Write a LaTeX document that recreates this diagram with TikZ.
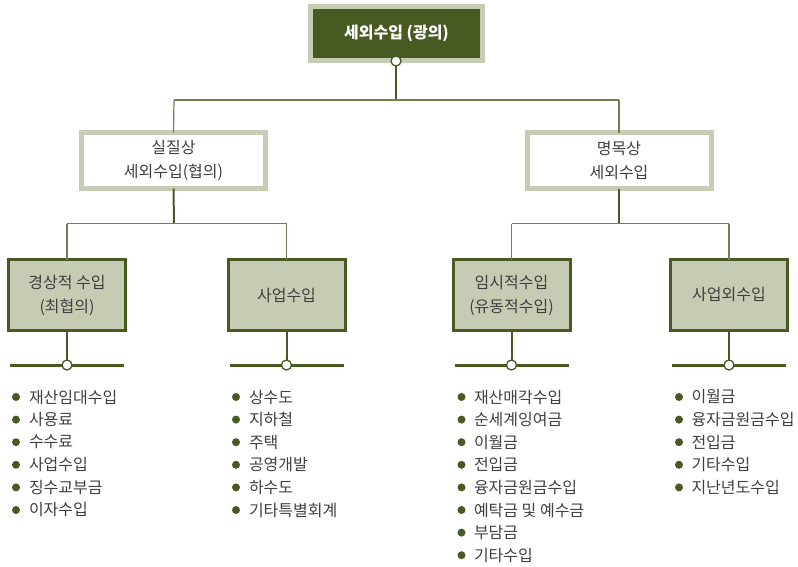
\documentclass[tikz,border=0pt]{standalone}
\usepackage{fontspec}
\setmainfont{Noto Sans CJK KR}
\begin{document}
\begin{tikzpicture}[x=1pt,y=-1pt,
  every node/.style={inner sep=0pt, outer sep=0pt},
  topbox/.style={draw=lightbd, line width=5pt, fill=dkgreen, minimum width=172pt, minimum height=54pt, text=white, font=\fontsize{16}{19}\selectfont\bfseries},
  midbox/.style={draw=lightbd, line width=5pt, fill=white, minimum width=184pt, minimum height=56pt, text=txtgray, align=center, font=\fontsize{16}{24}\selectfont},
  lowbox/.style={draw=dkgreen, line width=3pt, fill=boxfill, minimum width=117pt, minimum height=71pt, text=txtgray, align=center, font=\fontsize{16}{24}\selectfont},
  knob/.style={circle, draw=dkgreen, line width=1.3pt, fill=white, minimum size=10pt},
  thick line/.style={draw=dkgreen, line width=2pt},
  thin line/.style={draw=thingreen, line width=1.2pt},
  bar/.style={draw=dkgreen, line width=3pt},
  item/.style={anchor=west, text=txtgray, font=\fontsize{16}{19}\selectfont},
  dot/.style={circle, fill=dkgreen, minimum size=8pt}
]
\definecolor{dkgreen}{HTML}{465A22}
\definecolor{lightbd}{HTML}{C6CDB5}
\definecolor{boxfill}{HTML}{C5CCB3}
\definecolor{thingreen}{HTML}{6F8150}
\definecolor{txtgray}{HTML}{404040}
\useasboundingbox (0,0) rectangle (798,566);

% top
\node[topbox] (top) at (396.5,33.5) {세외수입 (광의)};
\node[knob] (topk) at (396,61) {};
\coordinate (tj) at (396,100);
\coordinate (tl) at (174,100);
\coordinate (tr) at (619,100);

% middle
\node[midbox] (m1) at (173.5,160.5) {실질상\\세외수입(협의)};
\node[midbox] (m2) at (619,160.5) {명목상\\세외수입};

\draw[thick line] (topk) -- (tj);
\draw[thin line] (tl) -- (tr);
\draw[thin line] (tl) -- (m1.north);
\draw[thin line] (tr) -- (m2.north);

% bottom boxes
\node[lowbox] (b1) at (67,295) {경상적 수입\\(최협의)};
\node[lowbox] (b2) at (286.5,295) {사업수입};
\node[lowbox] (b3) at (511.5,295) {임시적수입\\(유동적수입)};
\node[lowbox] (b4) at (729,295) {사업외수입};

\coordinate (j1) at (174,223.5);
\coordinate (j1l) at (67,223.5);
\coordinate (j1r) at (286.5,223.5);
\coordinate (j2) at (619,223.5);
\coordinate (j2l) at (511.5,223.5);
\coordinate (j2r) at (729,223.5);

\draw[thick line] (m1.south) -- (j1);
\draw[thin line] (j1l) -- (j1r);
\draw[thin line] (j1l) -- (b1.north);
\draw[thin line] (j1r) -- (b2.north);
\draw[thick line] (m2.south) -- (j2);
\draw[thin line] (j2l) -- (j2r);
\draw[thin line] (j2l) -- (b3.north);
\draw[thin line] (j2r) -- (b4.north);

% bars and knobs
\foreach \b/\x in {b1/67, b2/286.5, b3/511.5, b4/729} {
  \coordinate (\b L) at (\x-57,365);
  \coordinate (\b R) at (\x+57,365);
  \draw[bar] (\b L) -- (\b R);
  \node[knob] (\b k) at (\x,365) {};
  \draw[thick line] (\b.south) -- (\b k.north);
}

% lists
\foreach \t [count=\i] in {재산임대수입,사용료,수수료,사업수입,징수교부금,이자수입} {
  \node[dot] (d1-\i) at (16,{397+22.6*(\i-1)}) {};
  \node[item] (l1-\i) at (29,{397+22.6*(\i-1)}) {\t};
}
\foreach \t [count=\i] in {상수도,지하철,주택,공영개발,하수도,기타특별회계} {
  \node[dot] (d2-\i) at (236,{397+22.6*(\i-1)}) {};
  \node[item] (l2-\i) at (249,{397+22.6*(\i-1)}) {\t};
}
\foreach \t [count=\i] in {재산매각수입,순세계잉여금,이월금,전입금,융자금원금수입,예탁금 및 예수금,부담금,기타수입} {
  \node[dot] (d3-\i) at (461.5,{397+22.6*(\i-1)}) {};
  \node[item] (l3-\i) at (474,{397+22.6*(\i-1)}) {\t};
}
\foreach \t [count=\i] in {이월금,융자금원금수입,전입금,기타수입,지난년도수입} {
  \node[dot] (d4-\i) at (679,{397+22.6*(\i-1)}) {};
  \node[item] (l4-\i) at (691.5,{397+22.6*(\i-1)}) {\t};
}
\end{tikzpicture}
\end{document}
